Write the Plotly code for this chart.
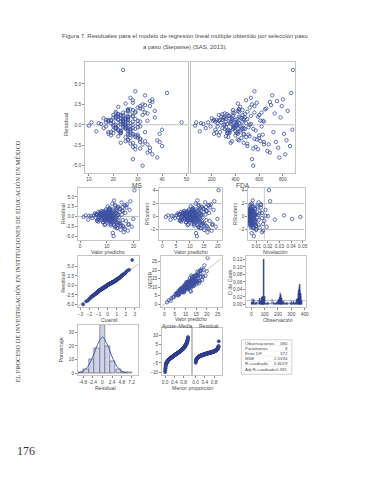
import plotly.graph_objects as go
import numpy as np
from statistics import NormalDist

# ---------------- data ----------------
pred_a = [9.8, 11.2, 7.5, 12.6, 10.1, 8.3, 14.2, 6.1, 13.5, 9.0,
          15.8, 11.9, 5.2, 10.7, 16.4, 8.9, 12.1, 3.4, 13.9, 7.8,
          17.5, 10.4, 9.3, 14.8, 6.7, 11.5, 18.2, 8.1, 12.9, 4.6,
          15.1, 10.9, 13.2, 7.1, 16.9, 9.6, 11.7, 2.1, 14.5, 8.6,
          19.3, 12.4, 10.2, 6.4, 15.5, 9.1, 13.7, 5.8, 17.1, 11.0,
          7.3, 14.0, 10.6, 12.2, 16.1, 8.4, 4.1, 13.1, 18.8, 9.9,
          11.4, 6.9, 15.2, 10.0, 12.7, 1.3, 14.9, 8.8, 17.8, 11.1,
          9.4, 13.4, 7.6, 16.6, 10.5, 5.5, 12.0, 19.9, 8.2, 14.4,
          11.6, 9.7, 15.9, 6.3, 13.0, 10.3, 18.5, 7.9, 12.5, 20.3,
          3.0, 11.8, 14.1, 9.2, 16.3, 10.8, 8.0, 13.6, 17.3, 12.3]
pred_b = [10.3, 8.7, 12.8, 9.5, 11.3, 7.9, 13.3, 10.9, 8.5, 12.0,
          14.6, 9.9, 11.7, 6.8, 13.8, 10.6, 9.1, 12.4, 15.3, 8.0,
          11.0, 13.1, 7.4, 10.2, 12.9, 9.6, 14.3, 11.5, 8.3, 16.0,
          10.7, 12.2, 9.3, 13.6, 7.7, 11.9, 14.0, 10.0, 8.9, 12.6,
          15.7, 9.7, 11.2, 6.5, 13.4, 10.4, 17.0, 8.6, 12.3, 11.6,
          9.0, 14.7, 10.8, 7.2, 13.0, 11.4, 15.0, 9.4, 12.7, 10.1,
          5.9, 13.9, 11.1, 8.4, 16.7, 10.5, 12.1, 9.8, 14.2, 7.0,
          11.8, 13.2, 8.8, 15.6, 10.9, 12.5, 18.0, 9.2, 11.3, 6.2]
resid_a = [0.4, -1.2, 0.8, 1.5, -0.3, 0.2, -2.1, 0.5, 0.9, -0.7,
           2.4, -0.1, 0.3, 1.1, -2.8, -1.0, 0.6, 0.2, -1.6, 1.3,
           3.1, 0.0, 0.7, 1.9, -0.6, -2.3, -1.9, 0.4, -0.5, -0.4,
           -3.4, 1.6, 2.7, -0.9, 0.9, 1.8, -1.4, 0.3, -0.2, -1.5,
           -2.6, 0.2, -0.8, 0.6, 3.6, 0.1, -3.0, -0.2, -1.1, 2.2,
           1.0, 0.5, -1.8, -4.2, 1.4, 0.9, 0.1, -0.7, 3.9, -0.4,
           1.2, -1.3, -2.4, 0.3, 4.1, -0.1, 2.0, 1.1, -3.6, -0.6,
           -2.0, 1.0, 0.0, 2.9, -1.0, 0.8, 3.3, -0.6, -0.3, -1.2,
           0.7, 1.5, -0.9, -1.1, -2.7, 2.6, 1.7, 0.6, -5.0, 6.7,
           -0.8, -0.5, 0.4, -2.2, -4.0, 1.9, 1.4, -1.3, 2.3, 0.0]
resid_b = [-0.5, 0.7, -1.1, 0.3, 1.0, -0.4, 1.6, -0.9, 0.1, 0.8,
           -1.7, 0.5, -0.2, 1.2, 2.1, -1.3, -0.6, 0.4, -2.0, 0.9,
           0.2, -1.5, 0.6, -0.1, 1.3, -0.8, 2.5, -1.9, 0.0, -2.4,
           0.6, 1.8, -1.0, -0.3, 0.3, 0.9, -2.9, 1.1, -0.7, -1.2,
           1.5, 0.4, -0.4, -0.9, 0.7, 1.4, 2.8, -1.4, -0.5, 0.2,
           1.1, -1.8, -0.2, 0.5, 3.0, -1.1, 1.2, 0.8, -2.2, -0.3,
           0.6, 0.1, 1.7, -0.5, -3.2, 0.0, -1.6, 0.9, 2.3, -0.2,
           -0.8, -2.6, 1.3, 0.5, 0.7, -0.4, -2.1, -1.0, 1.9, 0.4]
ms_a = [24, 27, 21, 29, 25, 19, 31, 18, 26, 23,
        33, 22, 17, 28, 35, 20, 26, 14, 30, 22,
        36, 25, 24, 32, 20, 27, 38, 23, 29, 16,
        34, 21, 28, 19, 37, 26, 30, 11, 31, 25,
        40, 27, 23, 18, 33, 24, 29, 17, 39, 22,
        21, 30, 26, 28, 34, 20, 15, 27, 42, 25,
        23, 19, 32, 48, 29, 10, 31, 22, 36, 26,
        25, 28, 20, 35, 23, 16, 27, 40, 21, 30,
        26, 24, 33, 18, 28, 25, 37, 22, 32, 24,
        13, 27, 31, 23, 38, 26, 21, 29, 35, 28]
ms_b = [25, 22, 28, 24, 26, 21, 29, 27, 23, 25,
        31, 24, 27, 20, 30, 26, 22, 28, 33, 21,
        25, 29, 19, 24, 27, 23, 32, 26, 21, 34,
        25, 28, 23, 30, 20, 26, 31, 24, 22, 28,
        33, 23, 26, 18, 29, 25, 36, 22, 27, 26,
        23, 31, 25, 19, 28, 26, 32, 23, 28, 24,
        17, 30, 26, 21, 35, 25, 27, 24, 31, 20,
        26, 29, 22, 34, 25, 28, 39, 23, 27, 18]
fda_a = [420, 510, 300, 560, 390, 250, 640, 210, 480, 350,
         700, 450, 170, 530, 760, 330, 470, 110, 600, 290,
         800, 410, 370, 650, 230, 500, 830, 320, 550, 150,
         690, 430, 580, 270, 780, 380, 520, 70, 620, 340,
         860, 490, 400, 240, 710, 360, 590, 190, 810, 440,
         280, 610, 420, 540, 730, 310, 130, 570, 870, 390,
         460, 260, 680, 400, 560, 60, 660, 350, 820, 450,
         370, 590, 300, 750, 410, 200, 530, 880, 320, 630,
         470, 380, 720, 220, 570, 420, 840, 290, 550, 885,
         100, 480, 640, 360, 770, 430, 310, 600, 790, 520]
fda_b = [380, 320, 470, 360, 430, 290, 500, 420, 330, 450,
         560, 370, 440, 260, 520, 400, 340, 460, 610, 300,
         410, 490, 270, 390, 480, 350, 540, 430, 310, 640,
         400, 460, 350, 510, 280, 440, 550, 380, 330, 470,
         620, 360, 420, 240, 500, 390, 690, 320, 460, 430,
         340, 580, 410, 260, 490, 420, 600, 350, 470, 380,
         220, 530, 420, 310, 670, 400, 450, 370, 560, 250,
         440, 500, 330, 630, 410, 470, 740, 340, 430, 230]
lev_a = [0.004, 0.005, 0.006, 0.007, 0.004, 0.008, 0.009, 0.010, 0.005, 0.006,
         0.011, 0.004, 0.012, 0.005, 0.013, 0.006, 0.005, 0.018, 0.007, 0.006,
         0.014, 0.004, 0.005, 0.009, 0.008, 0.006, 0.016, 0.007, 0.005, 0.015,
         0.010, 0.006, 0.007, 0.008, 0.015, 0.005, 0.006, 0.034, 0.008, 0.006,
         0.019, 0.005, 0.004, 0.009, 0.012, 0.005, 0.008, 0.011, 0.017, 0.004,
         0.007, 0.008, 0.005, 0.006, 0.013, 0.006, 0.020, 0.007, 0.022, 0.004,
         0.005, 0.009, 0.010, 0.006, 0.007, 0.048, 0.009, 0.006, 0.016, 0.005,
         0.005, 0.007, 0.008, 0.014, 0.004, 0.013, 0.006, 0.041, 0.006, 0.009,
         0.005, 0.005, 0.012, 0.010, 0.007, 0.004, 0.018, 0.007, 0.008, 0.021,
         0.026, 0.005, 0.008, 0.006, 0.015, 0.005, 0.007, 0.007, 0.014, 0.006]
lev_b = [0.003, 0.004, 0.005, 0.003, 0.004, 0.006, 0.006, 0.004, 0.005, 0.004,
         0.008, 0.003, 0.004, 0.007, 0.006, 0.003, 0.004, 0.005, 0.009, 0.005,
         0.003, 0.005, 0.007, 0.003, 0.005, 0.004, 0.007, 0.004, 0.006, 0.010,
         0.003, 0.005, 0.004, 0.006, 0.006, 0.004, 0.007, 0.003, 0.005, 0.005,
         0.009, 0.004, 0.003, 0.008, 0.006, 0.004, 0.011, 0.005, 0.004, 0.003,
         0.004, 0.008, 0.003, 0.007, 0.005, 0.004, 0.008, 0.004, 0.005, 0.003,
         0.009, 0.006, 0.004, 0.005, 0.010, 0.003, 0.004, 0.004, 0.007, 0.008,
         0.004, 0.005, 0.005, 0.009, 0.003, 0.005, 0.012, 0.004, 0.004, 0.009]
cook_obs = [3, 8, 14, 19, 25, 31, 37, 44, 52, 60,
            66, 71, 76, 80, 84, 88, 92, 96, 101, 108,
            115, 124, 133, 142, 150, 158, 166, 175, 183, 192,
            200, 207, 213, 217, 221, 224, 228, 232, 237, 243,
            250, 258, 266, 275, 284, 293, 300, 306, 313, 320,
            328, 336, 343, 348, 352, 356, 359, 362, 365, 368,
            371, 374, 377]
cook_d = [0.004, 0.015, 0.006, 0.012, 0.003, 0.008, 0.002, 0.005, 0.010, 0.004,
          0.016, 0.007, 0.018, 0.009, 0.021, 0.006, 0.004, 0.120, 0.020, 0.003,
          0.002, 0.005, 0.003, 0.002, 0.006, 0.013, 0.004, 0.003, 0.002, 0.004,
          0.009, 0.012, 0.018, 0.032, 0.026, 0.021, 0.015, 0.010, 0.005, 0.008,
          0.003, 0.002, 0.004, 0.003, 0.006, 0.002, 0.010, 0.004, 0.003, 0.007,
          0.002, 0.005, 0.012, 0.017, 0.028, 0.036, 0.044, 0.052, 0.040, 0.030,
          0.022, 0.014, 0.008]
hist_centers = [-5.4, -4.0, -2.6, -1.3, 0.0, 1.3, 2.6, 4.0, 5.4, 6.7]
hist_pct = [0.4, 3, 10, 18, 35, 20, 9, 3, 1, 0.3]
curve_x = [-6, -4.8, -3.6, -2.4, -1.2, 0, 1.2, 2.4, 3.6, 4.8, 6]
curve_y = [0.3, 1.5, 5, 12, 21, 26.5, 21, 12, 5, 1.5, 0.3]
stat_labels = ["Observaciones", "Parámetros", "Error DF", "MSE", "R-cuadrado", "Adj R-cuadrado"]
stat_values = ["380", "8", "372", "2.0184", "0.6019", "0.591"]

# ---------------- derived ----------------
pred = pred_a + pred_b
resid = resid_a + resid_b
ms = ms_a + ms_b
fda = fda_a + fda_b
lev = lev_a + lev_b
p_arr = np.array(pred); r_arr = np.array(resid)
rstud = r_arr / 1.65
observed = p_arr + r_arr
n = len(resid)
nd = NormalDist()
qq_x = [nd.inv_cdf((i + 1 - 0.375) / (n + 0.25)) for i in range(n)]
qq_y = np.sort(r_arr)
prop = [(i + 0.5) / n for i in range(n)]
fit_c = np.sort(p_arr - p_arr.mean())
res_s = np.sort(r_arr)

# ---------------- layout helpers ----------------
W, H = 370, 480
BLUE = '#3c519f'
FRAME = '#c4c4c4'
TXT = '#4a4a4a'
FONT = 'Liberation Sans, Arial, sans-serif'


def dx(a, b):
    return [a / W, b / W]


def dy(t, b):
    return [1 - b / H, 1 - t / H]


layout = dict(width=W, height=H, margin=dict(l=0, r=0, t=0, b=0),
              paper_bgcolor='white', plot_bgcolor='white', showlegend=False,
              font=dict(family=FONT, color=TXT, size=5), bargap=0)

panels = [
    (1, (85, 189), (62, 173), [8.4, 50.6], [-5.85, 7.7], [10, 20, 30, 40, 50], None,
     [-5, -2.5, 0, 2.5, 5], ['-5.0', '-2.5', '0.0', '2.5', '5.0']),
    (2, (192, 297), (62, 173), [25, 900], [-5.85, 7.7], [200, 400, 600, 800], None,
     [-5, -2.5, 0, 2.5, 5], []),
    (3, (78, 140), (188, 240), [-0.74, 22.2], [-5.87, 7.4], [0, 10, 20], None,
     [-5, -2.5, 0, 2.5, 5], ['-5.0', '-2.5', '0.0', '2.5', '5.0']),
    (4, (160, 223), (188, 240), [-1.07, 21.4], [-3.54, 4.46], [0, 5, 10, 15, 20], None,
     [-2, 0, 2, 4], None),
    (5, (250, 307), (188, 240), [0.0032, 0.0517], [-3.54, 4.46], [0.01, 0.02, 0.03, 0.04, 0.05],
     ['0.01', '0.02', '0.03', '0.04', '0.05'], [-2, 0, 2, 4], None),
    (6, (78, 140), (257, 308), [-3.25, 3.5], [-5.79, 7.63], [-3, -2, -1, 0, 1, 2, 3], None,
     [-5, -2.5, 0, 2.5, 5], ['-5.0', '-2.5', '0.0', '2.5', '5.0']),
    (7, (162, 223), (257, 308), [-1.39, 26.85], [-1.74, 27.9], [0, 5, 10, 15, 20, 25], None,
     [0, 5, 10, 15, 20, 25], None),
    (8, (248, 308), (257, 308), [-37, 407], [-0.008, 0.128], [0, 100, 200, 300, 400], None,
     [0, 0.02, 0.04, 0.06, 0.08, 0.10, 0.12], ['0.00', '0.02', '0.04', '0.06', '0.08', '0.10', '0.12']),
    (9, (78, 138), (326, 376), [-6.0, 8.67], [-1.46, 35.1], [-4.8, -2.4, 0, 2.4, 4.8, 7.2],
     ['-4.8', '-2.4', '0', '2.4', '4.8', '7.2'], [0, 10, 20, 30], None),
    (10, (163, 192), (329, 376), [-0.12, 1.12], [-11.7, 13.7], [0, 0.4, 0.8], ['0.0', '0.4', '0.8'],
     [-10, -5, 0, 5, 10], None),
    (11, (194, 223), (329, 376), [-0.12, 1.12], [-11.7, 13.7], [0, 0.4, 0.8], ['0.0', '0.4', '0.8'],
     [-10, -5, 0, 5, 10], []),
]

for pid, xp, yp, xr, yr, xt, xtt, yt, ytt in panels:
    sfx = '' if pid == 1 else str(pid)
    ax_common = dict(showline=True, mirror=True, linecolor=FRAME, linewidth=1,
                     showgrid=False, zeroline=False, ticks='outside', ticklen=2,
                     tickcolor='#888', tickwidth=0.6, tickfont=dict(size=4.8, color=TXT),
                     tickangle=0, fixedrange=True)
    xa = dict(ax_common, domain=dx(*xp), range=xr, tickvals=xt, anchor='y' + sfx)
    if xtt is not None:
        xa['ticktext'] = xtt
    ya = dict(ax_common, domain=dy(*yp), range=yr, tickvals=yt, anchor='x' + sfx)
    if ytt is not None:
        if len(ytt) == 0:
            ya['showticklabels'] = False
            ya['ticks'] = ''
        else:
            ya['ticktext'] = ytt
    layout['xaxis' + sfx] = xa
    layout['yaxis' + sfx] = ya

fig = go.Figure()


def ax(pid):
    return ('x' if pid == 1 else 'x%d' % pid), ('y' if pid == 1 else 'y%d' % pid)


openm = dict(symbol='circle-open', size=3.4, color=BLUE, line=dict(width=0.8, color=BLUE))
fillm = dict(symbol='circle', size=3.2, color=BLUE, line=dict(width=0.5, color='#2a3a86'))


def sc(pid, x, y, m=openm):
    xa, ya = ax(pid)
    fig.add_trace(go.Scatter(x=list(x), y=list(y), mode='markers', marker=m,
                             xaxis=xa, yaxis=ya, hoverinfo='skip'))


sc(1, ms, resid)
sc(2, fda, resid)
sc(3, pred, resid)
sc(4, pred, rstud)
sc(5, lev, rstud)
sc(6, qq_x, qq_y, fillm)
sc(7, pred, observed)
sc(10, prop, fit_c, fillm)
sc(11, prop, res_s, fillm)

xa, ya = ax(8)
fig.add_trace(go.Bar(x=cook_obs, y=cook_d, width=6,
                     marker=dict(color='#2c3d8c', line=dict(width=0.4, color='#2c3d8c')),
                     xaxis=xa, yaxis=ya, hoverinfo='skip'))
xa, ya = ax(9)
fig.add_trace(go.Bar(x=hist_centers, y=hist_pct, width=1.3,
                     marker=dict(color='#cdd3ea', line=dict(width=0.7, color='#6a6a7a')),
                     xaxis=xa, yaxis=ya, hoverinfo='skip'))
fig.add_trace(go.Scatter(x=curve_x, y=curve_y, mode='lines',
                         line=dict(color='#3c4f9a', width=0.9, shape='spline'),
                         xaxis=xa, yaxis=ya, hoverinfo='skip'))

shapes = []


def hline(pid, yv, x0, x1, color='#b0b0b0'):
    xa, ya = ax(pid)
    shapes.append(dict(type='line', xref=xa, yref=ya, x0=x0, x1=x1, y0=yv, y1=yv,
                       line=dict(color=color, width=0.8), layer='below'))


def seg(pid, x0, y0, x1, y1, color='#b8b8b8'):
    xa, ya = ax(pid)
    shapes.append(dict(type='line', xref=xa, yref=ya, x0=x0, x1=x1, y0=y0, y1=y1,
                       line=dict(color=color, width=0.8), layer='below'))


hline(1, 0, 8.4, 50.6)
hline(2, 0, 25, 900)
hline(3, 0, -0.74, 22.2)
hline(4, 2, -1.07, 21.4); hline(4, -2, -1.07, 21.4)
hline(5, 2, 0.0032, 0.0517); hline(5, -2, 0.0032, 0.0517)
seg(5, 0.017, -3.54, 0.017, 4.46)
seg(6, -3.25, -5.36, 3.5, 5.78)
seg(7, -1.39, -1.39, 26.85, 26.85)
hline(8, 0.0105, -37, 407, '#a8a8a8')

annotations = []


def ann(text, px, py, size=6, angle=0, xanchor='center', family=FONT, color=TXT):
    annotations.append(dict(text=text, x=px / W, y=1 - py / H, xref='paper', yref='paper',
                            showarrow=False, textangle=angle, xanchor=xanchor, yanchor='middle',
                            font=dict(size=size, family=family, color=color)))


ann("Figura 7. Residuales para el modelo de regresión lineal múltiple obtenido por selección paso",
    186, 36, 6)
ann("a paso (Stepwise) (SAS, 2013).", 186, 47, 6)
ann("EL PROCESO DE INVESTIGACIÓN EN INSTITUCIONES DE EDUCACIÓN EN MÉXICO", 17, 262, 6.3, -90,
    family='Liberation Serif, DejaVu Serif, serif', color='#333')
ann("176", 25, 452, 12, family='Liberation Serif, DejaVu Serif, serif', color='#333')

# axis titles
ann("Residual", 65, 125, 6, -90)
ann("MS", 137, 185.5, 6.5)
ann("FDA", 245, 185.5, 6.5)
ann("Residual", 62, 214, 5.3, -90)
ann("RStudent", 147, 214, 5.3, -90)
ann("RStudent", 236, 214, 5.3, -90)
ann("Valor predicho", 108, 253, 5.3)
ann("Valor predicho", 192, 253, 5.3)
ann("Nivelación", 277, 253, 5.3)
ann("Residual", 63, 283, 5.3, -90)
ann("MEDIR", 151, 281, 5.3, -90)
ann("D de Cook", 232, 283, 5.3, -90)
ann("Cuantil", 110, 320.5, 5.3)
ann("Valor predicho", 192, 320, 5)
ann("Observación", 280, 320.5, 5.3)
ann("Porcentaje", 61, 351, 5.3, -90)
ann("Residual", 106, 389, 5.3)
ann("Ajuste–Media", 178, 326.5, 5)
ann("Residual", 210, 326.5, 5)
ann("Menor proporción", 194, 389, 5.3)

# statistics table
row_y0, row_dy = 343.8, 5.2
for i, (lab, val) in enumerate(zip(stat_labels, stat_values)):
    ann(lab, 245, row_y0 + i * row_dy, 4.4, xanchor='left')
    ann(val, 292, row_y0 + i * row_dy, 4.4, xanchor='right')
shapes.append(dict(type='rect', xref='paper', yref='paper', x0=243 / W, x1=294 / W,
                   y0=1 - 375 / H, y1=1 - 340.5 / H, line=dict(color=FRAME, width=0.8)))
for i in range(1, 6):
    yy = row_y0 + (i - 0.5) * row_dy
    shapes.append(dict(type='line', xref='paper', yref='paper', x0=243 / W, x1=294 / W,
                       y0=1 - yy / H, y1=1 - yy / H, line=dict(color='#e2e2e2', width=0.5)))

layout['annotations'] = annotations
layout['shapes'] = shapes
fig.update_layout(**layout)
fig.write_html("out.html", config={'displayModeBar': False},
               post_script="document.body.style.margin='0';document.body.style.padding='0';"
                           "document.body.style.overflow='hidden';")
